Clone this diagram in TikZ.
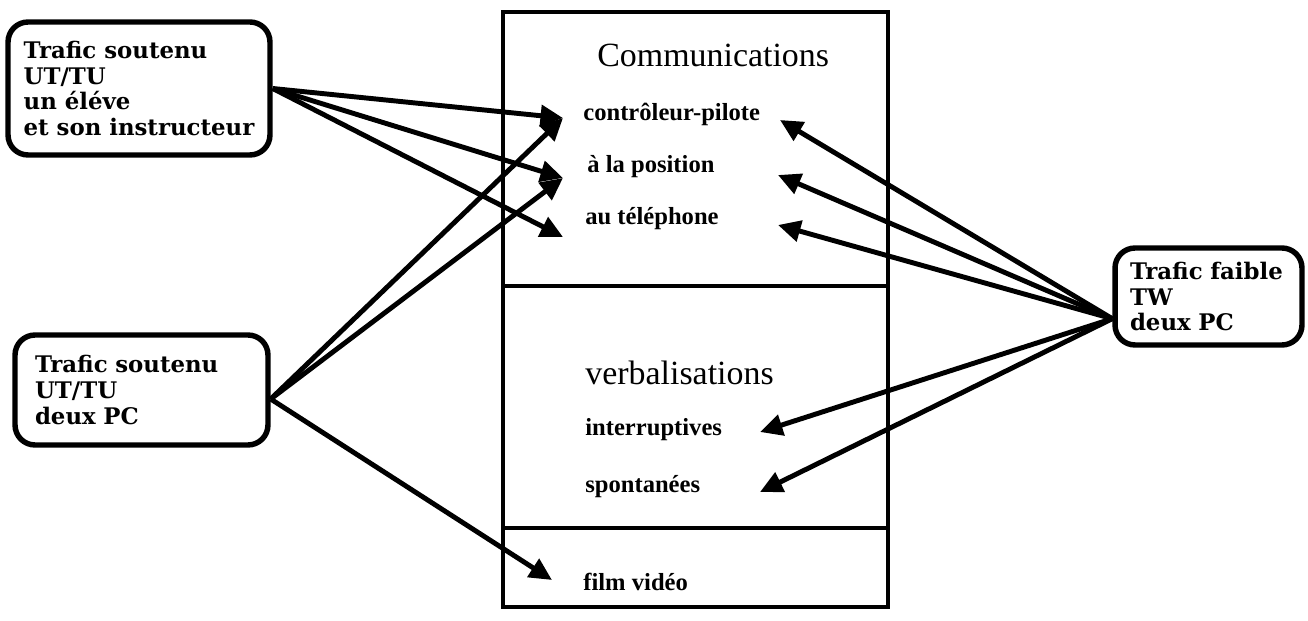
\documentclass[tikz,border=0pt]{standalone}
\usepackage{fontspec}
\setmainfont{Liberation Serif}
\newfontfamily\boxfont{DejaVu Serif}
\usetikzlibrary{arrows.meta}
\tikzset{
  trafic/.style={draw, line width=3.1pt, rounded corners=0.4cm, align=left, inner ysep=0pt,
    font=\boxfont\bfseries\fontsize{13}{14.7}\selectfont},
  titre/.style={anchor=base west, inner sep=0pt, font=\fontsize{19.3}{22}\selectfont},
  item/.style={anchor=base west, inner sep=0pt, font=\bfseries\fontsize{14}{16}\selectfont},
  fleche/.style={line width=2.8pt, -{Triangle[length=0.45cm,width=0.42cm]}}
}
\begin{document}
\begin{tikzpicture}[x=0.02cm,y=-0.02cm]
                \useasboundingbox (0,0) rectangle (1308,621);
                \draw [line width=2.6pt] (503,12) rectangle (888,607);
                \draw [line width=2.6pt] (503,286) -- (888,286);
                \draw [line width=2.6pt] (503,528) -- (888,528);
                \node [titre] (com) at (597,67) {Communications};
                \node [item] (cp) at (583,121) {contrôleur-pilote};
                \node [item] (pos) at (587,173) {à la position};
                \node [item] (tel) at (585,225) {au téléphone};
                \node [titre] (verb) at (585,384) {verbalisations};
                \node [item] (int) at (585,435) {interruptives};
                \node [item] (spo) at (585,492) {spontanées};
                \node [item] (film) at (583,590) {film vidéo};
                \node [trafic, minimum width=5.24cm, minimum height=2.66cm] (tl) at (139,88.5)
                    {Trafic soutenu\\UT/TU\\un éléve\\et son instructeur};
                \node [trafic, inner xsep=0.4cm, text width=4.26cm, minimum height=2.2cm] (bl) at (141.5,390)
                    {Trafic soutenu\\UT/TU\\deux PC};
                \node [trafic, inner xsep=0.3cm, text width=3.14cm, minimum height=1.94cm] (tw) at (1208.5,296.5)
                    {Trafic faible\\TW\\deux PC};
                \coordinate (cpL) at (563,118);
                \coordinate (posL) at (563,178);
                \coordinate (telL) at (563,237);
                \coordinate (filmL) at (552,580);
                \coordinate (cpR) at (780,120);
                \coordinate (posR) at (778,175);
                \coordinate (telR) at (778,225);
                \coordinate (intR) at (760,432);
                \coordinate (spoR) at (760,492);
                \draw [fleche] (tl.east) -- (cpL);
                \draw [fleche] (tl.east) -- (posL);
                \draw [fleche] (tl.east) -- (telL);
                \draw [fleche] (bl.-4.5) -- (cpL);
                \draw [fleche] (bl.-4.5) -- (posL);
                \draw [fleche] (bl.-4.5) -- (filmL);
                \draw [fleche] (tw.193) -- (cpR);
                \draw [fleche] (tw.193) -- (posR);
                \draw [fleche] (tw.193) -- (telR);
                \draw [fleche] (tw.193) -- (intR);
                \draw [fleche] (tw.193) -- (spoR);
            \end{tikzpicture}
\end{document}
